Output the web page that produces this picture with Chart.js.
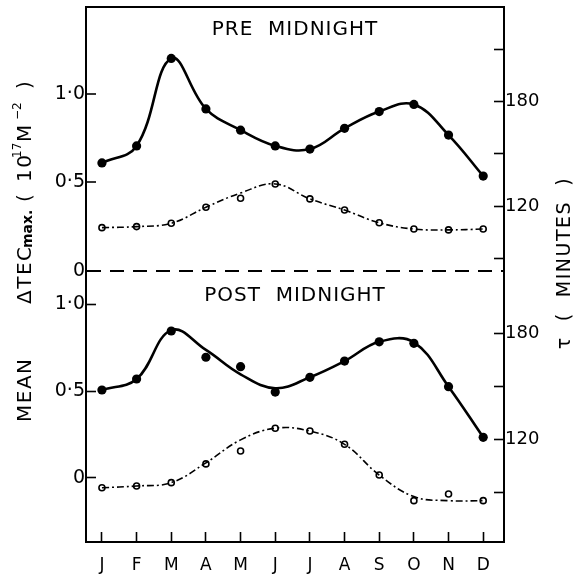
<!DOCTYPE html>
<html>
<head>
<meta charset="utf-8">
<script src="https://cdn.jsdelivr.net/npm/chart.js@4"></script>
<style>
html,body{margin:0;padding:0;background:#fff;}
#wrap{width:574px;height:577px;}
</style>
</head>
<body>
<div id="wrap"><canvas id="c" width="574" height="577"></canvas></div>
<script>
// ---- data ----
const months = ['J','F','M','A','M','J','J','A','S','O','N','D'];
// Pre-midnight: mean ΔTEC max (filled) and τ minutes (open)
const preTec      = [0.61, 0.706, 1.20, 0.915, 0.795, 0.706, 0.688, 0.805, 0.90, 0.94, 0.767, 0.536];
const preTecCurve = [0.61, 0.706, 1.20, 0.915, 0.795, 0.706, 0.688, 0.805, 0.90, 0.94, 0.767, 0.536];
const preTau      = [107.6, 108.2, 110.1, 119.3, 124.5, 132.7, 124.1, 117.7, 110.4, 106.8, 106.3, 106.8];
const preTauCurve = [107.6, 108.2, 110.1, 119.3, 127.5, 132.7, 124.1, 117.7, 110.4, 106.8, 106.3, 106.8];
// Post-midnight
const postTec      = [0.506, 0.569, 0.845, 0.694, 0.640, 0.494, 0.579, 0.672, 0.783, 0.774, 0.525, 0.234];
const postTecCurve = [0.506, 0.569, 0.850, 0.736, 0.596, 0.516, 0.579, 0.672, 0.783, 0.780, 0.525, 0.234];
const postTau      = [92.4, 93.4, 95.3, 105.9, 113.2, 126.1, 124.5, 117.0, 99.6, 85.1, 88.9, 85.1];
const postTauCurve = [92.4, 93.4, 95.3, 106.5, 119.5, 126.1, 124.5, 117.0, 99.6, 87.4, 85.1, 85.1];
// tick values
const tecTicks = [0, 0.5, 1.0];
const tauTicksTop = [90, 120, 150, 180, 210];
const tauTicksBot = [90, 120, 150, 180];
const tauLabelled = [120, 180];

const xy = arr => arr.map((v, i) => ({x: i, y: v}));
const FONT = "'DejaVu Sans', sans-serif";

function curve(data, axis, dashed) {
  return {
    data: xy(data), yAxisID: axis, borderColor: '#000', backgroundColor: '#000',
    borderWidth: dashed ? 1.6 : 2.6, borderDash: dashed ? [7, 3, 2, 3] : [],
    pointRadius: 0, tension: 0.4, fill: false
  };
}
function pts(data, axis, open) {
  return {
    data: xy(data), yAxisID: axis, showLine: false,
    pointRadius: open ? 3 : 4.6, pointBorderWidth: open ? 1.6 : 0,
    pointBorderColor: '#000', pointBackgroundColor: open ? '#fff' : '#000'
  };
}

const tecFmt = v => v === 0 ? '0' : v.toFixed(1).replace('.', '\u00B7');
const tauFmt = v => tauLabelled.includes(v) ? String(v) : '';

function yAxis(pos, stack, weight, min, max, ticks, fmt, extra) {
  return Object.assign({
    type: 'linear', position: pos, stack: stack, stackWeight: weight, min: min, max: max,
    afterBuildTicks: s => { s.ticks = ticks.map(v => ({value: v})); },
    afterFit: s => { s.width = pos === 'left' ? 86 : 70; s.paddingTop = 0; s.paddingBottom = 0; },
    ticks: {callback: fmt, color: '#000', font: {family: FONT, size: pos === 'left' ? 19 : 18}, padding: pos === 'left' ? 11 : 11},
    grid: {drawOnChartArea: false, tickLength: -10, tickColor: '#000', tickWidth: 1.6},
    border: {color: '#000', width: 2}
  }, extra || {});
}

const textPlugin = {
  id: 'texts',
  afterDraw(chart) {
    const ctx = chart.ctx;
    const a = chart.chartArea;
    const cx = (a.left + a.right) / 2;
    ctx.save();
    ctx.fillStyle = '#000';
    ctx.textAlign = 'center';
    ctx.textBaseline = 'middle';
    ctx.font = '20px ' + FONT;
    ctx.letterSpacing = '1px';
    ctx.fillText('PRE  MIDNIGHT', cx, chart.scales.yTop.getPixelForValue(1.36));
    ctx.fillText('POST  MIDNIGHT', cx, chart.scales.yBot.getPixelForValue(1.05));
    ctx.restore();

    // left title (rotated, reads bottom to top)
    const pieces = [
      ['MEAN', 20, 422, 0, ''],
      ['\u0394TEC', 20, 304, 0, ''],
      ['max.', 14, 248, 2, 'bold '],
      ['(', 20, 202, 0, ''],
      ['10', 20, 182, 0, ''],
      ['17', 12, 158, -8, ''],
      ['M', 20, 142, 0, ''],
      ['\u22122', 12, 120, -8, ''],
      [')', 20, 89, 0, '']
    ];
    ctx.save();
    ctx.translate(26, 0);
    ctx.rotate(-Math.PI / 2);
    ctx.fillStyle = '#000';
    ctx.textAlign = 'left';
    ctx.textBaseline = 'middle';
    for (const [t, sz, y, dx, w] of pieces) {
      ctx.font = w + sz + 'px ' + FONT;
      ctx.letterSpacing = sz >= 20 ? '1.5px' : '0px';
      ctx.fillText(t, -y, dx);
    }
    ctx.restore();

    // right title
    ctx.save();
    ctx.translate(565, 263);
    ctx.rotate(-Math.PI / 2);
    ctx.fillStyle = '#000';
    ctx.textAlign = 'center';
    ctx.textBaseline = 'middle';
    ctx.font = '19px ' + FONT;
    ctx.letterSpacing = '1.5px';
    ctx.fillText('\u03C4  (  MINUTES  )', 0, 0);
    ctx.restore();
  }
};

new Chart(document.getElementById('c'), {
  type: 'line',
  data: {
    datasets: [
      curve(preTecCurve, 'yTop', false), pts(preTec, 'yTop', false),
      curve(preTauCurve, 'rTop', true), pts(preTau, 'rTop', true),
      curve(postTecCurve, 'yBot', false), pts(postTec, 'yBot', false),
      curve(postTauCurve, 'rBot', true), pts(postTau, 'rBot', true)
    ]
  },
  options: {
    responsive: false, animation: false, maintainAspectRatio: false,
    layout: {padding: {top: 7, left: 0, right: 0, bottom: 0}},
    plugins: {legend: {display: false}, tooltip: {enabled: false}, title: {display: false}},
    scales: {
      x: {
        type: 'linear', position: 'bottom', min: -0.46, max: 11.6,
        afterBuildTicks: s => { s.ticks = months.map((m, i) => ({value: i})); },
        afterFit: s => { s.height = 35; },
        ticks: {callback: v => months[v], color: '#000', font: {family: FONT, size: 17}, padding: 23, maxRotation: 0, autoSkip: false},
        grid: {drawOnChartArea: false, tickLength: -10, tickColor: '#000', tickWidth: 1.6},
        border: {color: '#000', width: 2}
      },
      xTop: {
        type: 'linear', position: 'top', min: -0.46, max: 11.6,
        afterFit: s => { s.height = 0; },
        ticks: {display: false}, grid: {display: false, drawTicks: false},
        border: {color: '#000', width: 2}
      },
      // left stack: later-defined axis sits on top
      yBot: yAxis('left', 'L', 271, -0.368, 1.19, tecTicks, tecFmt),
      yTop: yAxis('left', 'L', 264, 0, 1.49, tecTicks, tecFmt, {
        grid: {drawOnChartArea: true, tickLength: -10, tickColor: '#000', tickWidth: 1.6,
               color: c => (c.tick && c.tick.value === 0) ? '#000' : 'rgba(0,0,0,0)', lineWidth: 2},
        border: {color: '#000', width: 2, dash: [14, 9]}
      }),
      // right stack: first-defined axis sits on top
      rTop: yAxis('right', 'R', 264, 82.7, 234.3, tauTicksTop, tauFmt),
      rBot: yAxis('right', 'R', 271, 61.7, 215.1, tauTicksBot, tauFmt)
    }
  },
  plugins: [textPlugin]
});
</script>
</body>
</html>
